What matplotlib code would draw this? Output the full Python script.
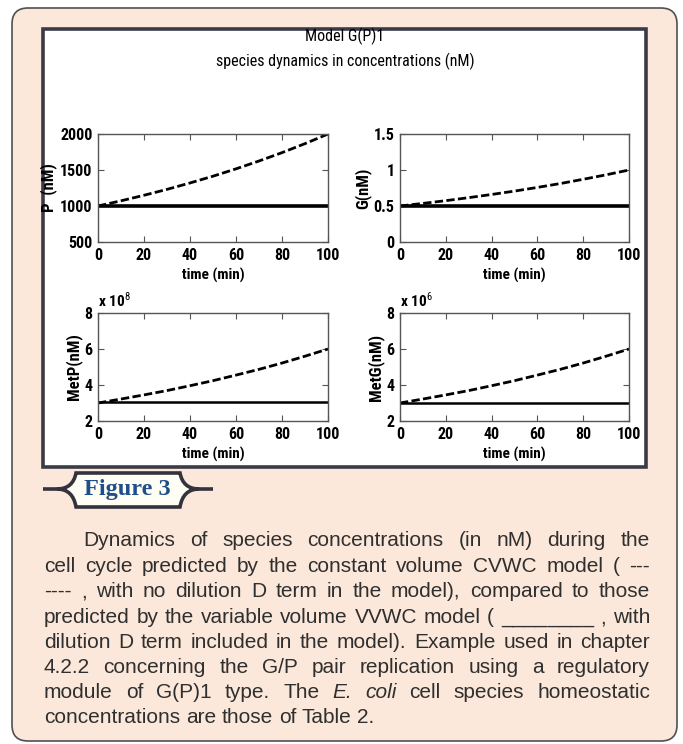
import matplotlib
matplotlib.use('Agg')
import matplotlib.pyplot as plt
from matplotlib import font_manager
from matplotlib.patches import FancyBboxPatch, Rectangle, PathPatch
from matplotlib.path import Path

# fonts: condensed sans for the plots if one is there, Arial-like for the caption
installed = {f.name for f in font_manager.fontManager.ttflist}
narrow = 'Liberation Sans'
for cand in ['Liberation Sans Narrow', 'Roboto Condensed', 'DejaVu Sans Condensed',
             'Open Sans Condensed']:
    if cand in installed:
        narrow = cand
        break
plt.rcParams['font.family'] = [narrow, 'DejaVu Sans']
plt.rcParams['mathtext.fontset'] = 'custom'
plt.rcParams['mathtext.rm'] = narrow
plt.rcParams['mathtext.bf'] = narrow + ':bold'

# data (time in min, concentrations in nM)
time_min = [0, 10, 20, 30, 40, 50, 60, 70, 80, 90, 100]
p_cvwc = [1000, 1072, 1149, 1231, 1320, 1414, 1516, 1625, 1741, 1866, 2000]
p_vvwc = [1000, 1000, 1000, 1000, 1000, 1000, 1000, 1000, 1000, 1000, 1000]
g_cvwc = [0.50, 0.536, 0.574, 0.616, 0.66, 0.707, 0.758, 0.812, 0.871, 0.933, 1.00]
g_vvwc = [0.50, 0.50, 0.50, 0.50, 0.50, 0.50, 0.50, 0.50, 0.50, 0.50, 0.50]
metp_cvwc = [3.00e8, 3.22e8, 3.45e8, 3.69e8, 3.96e8, 4.24e8, 4.55e8, 4.87e8, 5.22e8, 5.60e8, 6.00e8]
metp_vvwc = [3.05e8, 3.05e8, 3.05e8, 3.05e8, 3.05e8, 3.05e8, 3.05e8, 3.05e8, 3.05e8, 3.05e8, 3.05e8]
metg_cvwc = [3.00e6, 3.22e6, 3.45e6, 3.69e6, 3.96e6, 4.24e6, 4.55e6, 4.87e6, 5.22e6, 5.60e6, 6.00e6]
metg_vvwc = [3.00e6, 3.00e6, 3.00e6, 3.00e6, 3.00e6, 3.00e6, 3.00e6, 3.00e6, 3.00e6, 3.00e6, 3.00e6]

x_ticks = [0, 20, 40, 60, 80, 100]
p_ticks = [500, 1000, 1500, 2000]
g_ticks = [0, 0.5, 1, 1.5]
g_ticklabels = ['0', '0.5', '1', '1.5']
met_ticks = [2, 4, 6, 8]

caption_lines = [
    "Dynamics of species concentrations (in nM) during the",
    "cell cycle predicted by the constant volume CVWC model ( ---",
    "---- , with no dilution D term in the model), compared to those",
    "predicted by the variable volume VVWC model ( ________ , with",
    "dilution D term included in the model). Example used in chapter",
    "4.2.2 concerning the G/P pair replication using a regulatory",
    "module of G(P)1 type. The E. coli cell species homeostatic",
    "concentrations are those of Table 2.",
]
italic_words = {"E.", "coli"}

W, H = 683, 744
fig = plt.figure(figsize=(W / 100, H / 100), dpi=100)
fig.patch.set_facecolor('white')

# background layer in pixel coordinates (y downwards)
bg = fig.add_axes([0, 0, 1, 1], zorder=0)
bg.set_xlim(0, W)
bg.set_ylim(H, 0)
bg.axis('off')

bg.add_patch(FancyBboxPatch((12, 8), 665, 733, boxstyle='round,pad=0,rounding_size=16',
                            fc='#fce8da', ec='#505050', lw=1.2))
bg.add_patch(Rectangle((43, 29), 603, 438, fc='white', ec='#3b3b48', lw=2.6))

# "Figure 3" banner
verts = [(57, 489), (73, 489), (76, 473), (180, 473), (183, 489), (199, 489),
         (183, 489), (180, 507), (76, 507), (73, 489), (57, 489)]
codes = [Path.MOVETO, Path.CURVE3, Path.CURVE3, Path.LINETO, Path.CURVE3, Path.CURVE3,
         Path.CURVE3, Path.CURVE3, Path.LINETO, Path.CURVE3, Path.CURVE3]
bg.add_patch(PathPatch(Path(verts, codes), fc='#fffef4', ec='#33333d', lw=2.6))
bg.plot([43, 58], [489, 489], color='#33333d', lw=2.6, solid_capstyle='butt')
bg.plot([198, 213], [489, 489], color='#33333d', lw=2.6, solid_capstyle='butt')
bg.text(127, 490, 'Figure 3', family='Liberation Serif', weight='bold', fontsize=17.5,
        color='#1f4e8c', ha='center', va='center')

# plot title
fig.text(345 / W, 1 - 36 / H, 'Model G(P)1', ha='center', va='center', fontsize=11.5)
fig.text(345 / W, 1 - 61 / H, 'species dynamics in concentrations (nM)', ha='center',
         va='center', fontsize=11.5)


def make_axes(left, top, right, bottom):
    return fig.add_axes([left / W, 1 - bottom / H, (right - left) / W, (bottom - top) / H],
                        zorder=2)


panels = [
    (make_axes(98, 134, 328, 242), p_cvwc, p_vvwc, 1, p_ticks, None, 'P  (nM)', None, 2.6),
    (make_axes(400, 134, 629, 242), g_cvwc, g_vvwc, 1, g_ticks, g_ticklabels, 'G(nM)', None, 2.6),
    (make_axes(98, 313, 328, 421), metp_cvwc, metp_vvwc, 1e8, met_ticks, None, 'MetP(nM)', '8', 1.8),
    (make_axes(400, 313, 629, 421), metg_cvwc, metg_vvwc, 1e6, met_ticks, None, 'MetG(nM)', '6', 1.8),
]

for ax, cvwc, vvwc, scale, yt, ytl, ylab, expo, solid_lw in panels:
    ax.plot(time_min, [v / scale for v in vvwc], color='black', lw=solid_lw)
    ax.plot(time_min, [v / scale for v in cvwc], color='black', lw=2.0,
            linestyle=(0, (3, 1.2)))
    ax.set_xlim(0, 100)
    ax.set_ylim(yt[0], yt[-1])
    ax.set_xticks(x_ticks)
    ax.set_yticks(yt)
    if ytl is not None:
        ax.set_yticklabels(ytl)
    ax.tick_params(direction='in', top=True, right=True, length=4, width=0.8,
                   labelsize=11.5, pad=4, colors='#555555', labelcolor='black')
    for lab in ax.get_xticklabels() + ax.get_yticklabels():
        lab.set_fontweight('bold')
    for sp in ax.spines.values():
        sp.set_color('#555555')
        sp.set_linewidth(1.0)
    ax.set_xlabel('time (min)', fontsize=11, fontweight='bold', labelpad=4)
    ax.set_ylabel(ylab, fontsize=12, fontweight='bold', labelpad=2)
    if expo:
        ax.text(0.0, 1.03, r'x 10$^{%s}$' % expo, transform=ax.transAxes, fontsize=11,
                fontweight='bold', ha='left', va='bottom')

# justified caption
renderer = fig.canvas.get_renderer()
body_fs = 15.0
left_x, right_x = 44, 650
baselines = [546, 572, 597, 623, 648, 673, 698, 723]


def word_width(word):
    t = bg.text(0, 0, word, family='Liberation Sans', fontsize=body_fs,
                style='italic' if word in italic_words else 'normal')
    w = t.get_window_extent(renderer).width
    t.remove()
    return w


space_w = word_width('a a') - word_width('aa')

for i, line in enumerate(caption_lines):
    words = line.split(' ')
    widths = [word_width(w) for w in words]
    x0 = 83 if i == 0 else left_x
    last = i == len(caption_lines) - 1
    if last or len(words) < 2:
        gap = space_w
    else:
        gap = max((right_x - x0 - sum(widths)) / (len(words) - 1), 1.5)
    x = x0
    for w, wd in zip(words, widths):
        bg.text(x, baselines[i], w, family='Liberation Sans', fontsize=body_fs,
                style='italic' if w in italic_words else 'normal', color='#2f2f2f',
                ha='left', va='baseline')
        x += wd + gap

fig.savefig('out.png', dpi=100)
